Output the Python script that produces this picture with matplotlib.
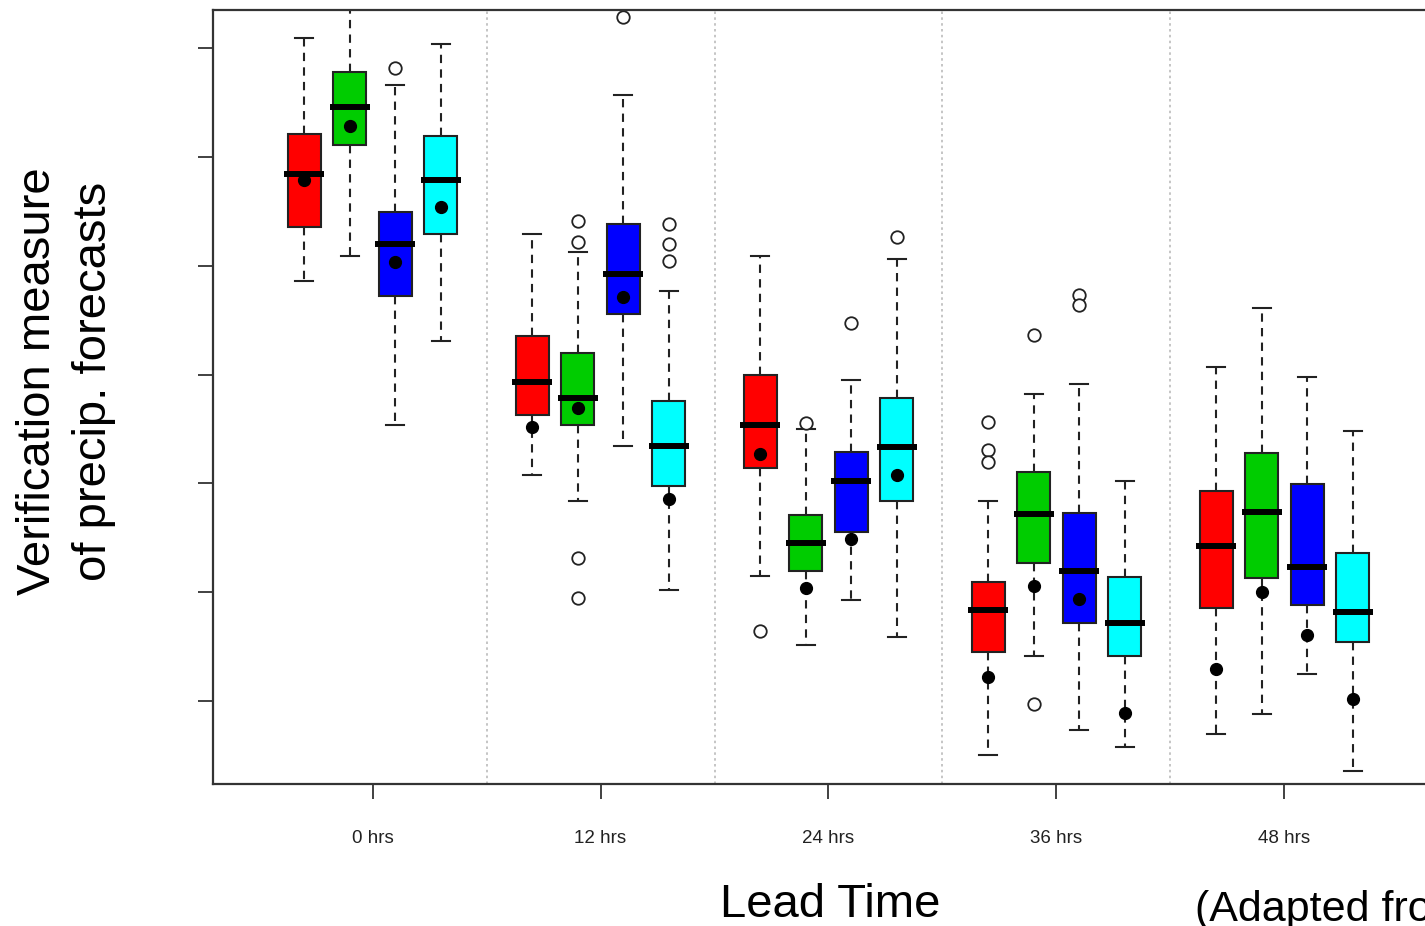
import matplotlib
matplotlib.use("Agg")
import matplotlib.pyplot as plt
import numpy as np

# lead times and the four forecast systems (one colour each)
leadLabels = ["0 hrs", "12 hrs", "24 hrs", "36 hrs", "48 hrs"]
boxColors = ["#ff0000", "#00cc00", "#0000ff", "#00ffff"]

# box statistics per lead time, one row per system: [whislo, q1, med, q3, whishi]
stats0 = [[3.86, 4.36, 4.84, 5.21, 6.09],
          [4.09, 5.11, 5.46, 5.78, 6.40],
          [2.54, 3.72, 4.20, 4.49, 5.66],
          [3.31, 4.29, 4.79, 5.19, 6.04]]
stats12 = [[2.08, 2.63, 2.93, 3.35, 4.29],
           [1.84, 2.54, 2.78, 3.20, 4.13],
           [2.34, 3.56, 3.92, 4.38, 5.57],
           [1.02, 1.98, 2.34, 2.76, 3.77]]
stats24 = [[1.15, 2.14, 2.54, 3.00, 4.09],
           [0.51, 1.19, 1.45, 1.71, 2.50],
           [0.93, 1.55, 2.02, 2.29, 2.95],
           [0.59, 1.84, 2.33, 2.78, 4.06]]
stats36 = [[-0.50, 0.45, 0.84, 1.09, 1.84],
           [0.41, 1.27, 1.72, 2.10, 2.82],
           [-0.27, 0.72, 1.19, 1.73, 2.91],
           [-0.42, 0.41, 0.72, 1.14, 2.02]]
stats48 = [[-0.30, 0.85, 1.42, 1.93, 3.07],
           [-0.12, 1.13, 1.74, 2.28, 3.61],
           [0.25, 0.88, 1.23, 1.99, 2.98],
           [-0.64, 0.54, 0.82, 1.36, 2.48]]
allStats = [stats0, stats12, stats24, stats36, stats48]

# means (black dots)
means = [[4.79, 5.28, 4.03, 4.54],
         [2.52, 2.69, 3.71, 1.86],
         [2.27, 1.04, 1.49, 2.08],
         [0.22, 1.06, 0.94, -0.11],
         [0.29, 1.00, 0.61, 0.02]]

# outliers (open circles)
outliers = [[[], [], [5.82], []],
            [[], [4.41, 4.22, 1.31, 0.95], [6.29], [4.38, 4.20, 4.04]],
            [[0.64], [2.55], [3.47], [4.26]],
            [[2.56, 2.31, 2.20], [3.36, -0.03], [3.73, 3.64], []],
            [[], [], [], []]]

offsets = [-0.3, -0.1, 0.1, 0.3]

fig = plt.figure(figsize=(14.25, 9.26), dpi=100)
ax = fig.add_axes([213 / 1425, 1 - 784 / 926, (1444 - 213) / 1425, (784 - 10) / 926])

bxpStats = []
positions = []
faceColors = []
for g in range(len(leadLabels)):
    for s in range(4):
        lo, q1, med, q3, hi = allStats[g][s]
        bxpStats.append({"whislo": lo, "q1": q1, "med": med, "q3": q3,
                         "whishi": hi, "fliers": outliers[g][s]})
        positions.append(g + offsets[s])
        faceColors.append(boxColors[s])

parts = ax.bxp(bxpStats, positions=positions, widths=0.145, capwidths=0.08,
               patch_artist=True, showfliers=True,
               boxprops=dict(edgecolor="#222222", linewidth=1.5),
               medianprops=dict(color="black", linewidth=4.3, solid_capstyle="butt"),
               whiskerprops=dict(color="#222222", linewidth=1.5, linestyle=(0, (4, 3))),
               capprops=dict(color="#222222", linewidth=1.5),
               flierprops=dict(marker="o", markerfacecolor="white", markeredgecolor="#222222",
                               markersize=9, markeredgewidth=1.3))
for patch, c in zip(parts["boxes"], faceColors):
    patch.set_facecolor(c)
for line in parts["medians"]:
    x0, x1 = line.get_xdata()[0], line.get_xdata()[-1]
    line.set_xdata([x0 - 0.015, x1 + 0.015])

# means
for g in range(len(leadLabels)):
    ax.plot([g + o for o in offsets], means[g], "o", color="black", markersize=8.5, zorder=5)

# dotted separators between lead times
for g in range(len(leadLabels) - 1):
    ax.axvline(g + 0.5, color="#bbbbbb", linestyle=(0, (1.5, 2)), linewidth=1.2, zorder=0)

ax.set_xlim(-0.7, 4.7)
ax.set_ylim(-0.763, 6.35)
ax.set_xticks(range(len(leadLabels)))
ax.set_xticklabels(leadLabels, fontsize=13.5, family="Liberation Sans", color="#222222")
ax.set_yticks(range(0, 7))
ax.set_yticklabels([])
ax.tick_params(axis="both", direction="out", length=11, width=1.3, color="#333333")
ax.tick_params(axis="x", pad=22)
for sp in ax.spines.values():
    sp.set_color("#333333")
    sp.set_linewidth(1.6)

fig.text(830 / 1425, 1 - 905 / 926, "Lead Time", ha="center", va="center",
         fontsize=34, family="Liberation Sans")
fig.text(1195 / 1425, 1 - 910 / 926, "(Adapted from ...)", ha="left", va="center",
         fontsize=31, family="Liberation Sans")
fig.text(66 / 1425, 1 - 381 / 926, "Verification measure\nof precip. forecasts",
         ha="center", va="center", rotation=90, fontsize=34, family="Liberation Sans",
         linespacing=1.33)

fig.savefig("out.png", dpi=100)
